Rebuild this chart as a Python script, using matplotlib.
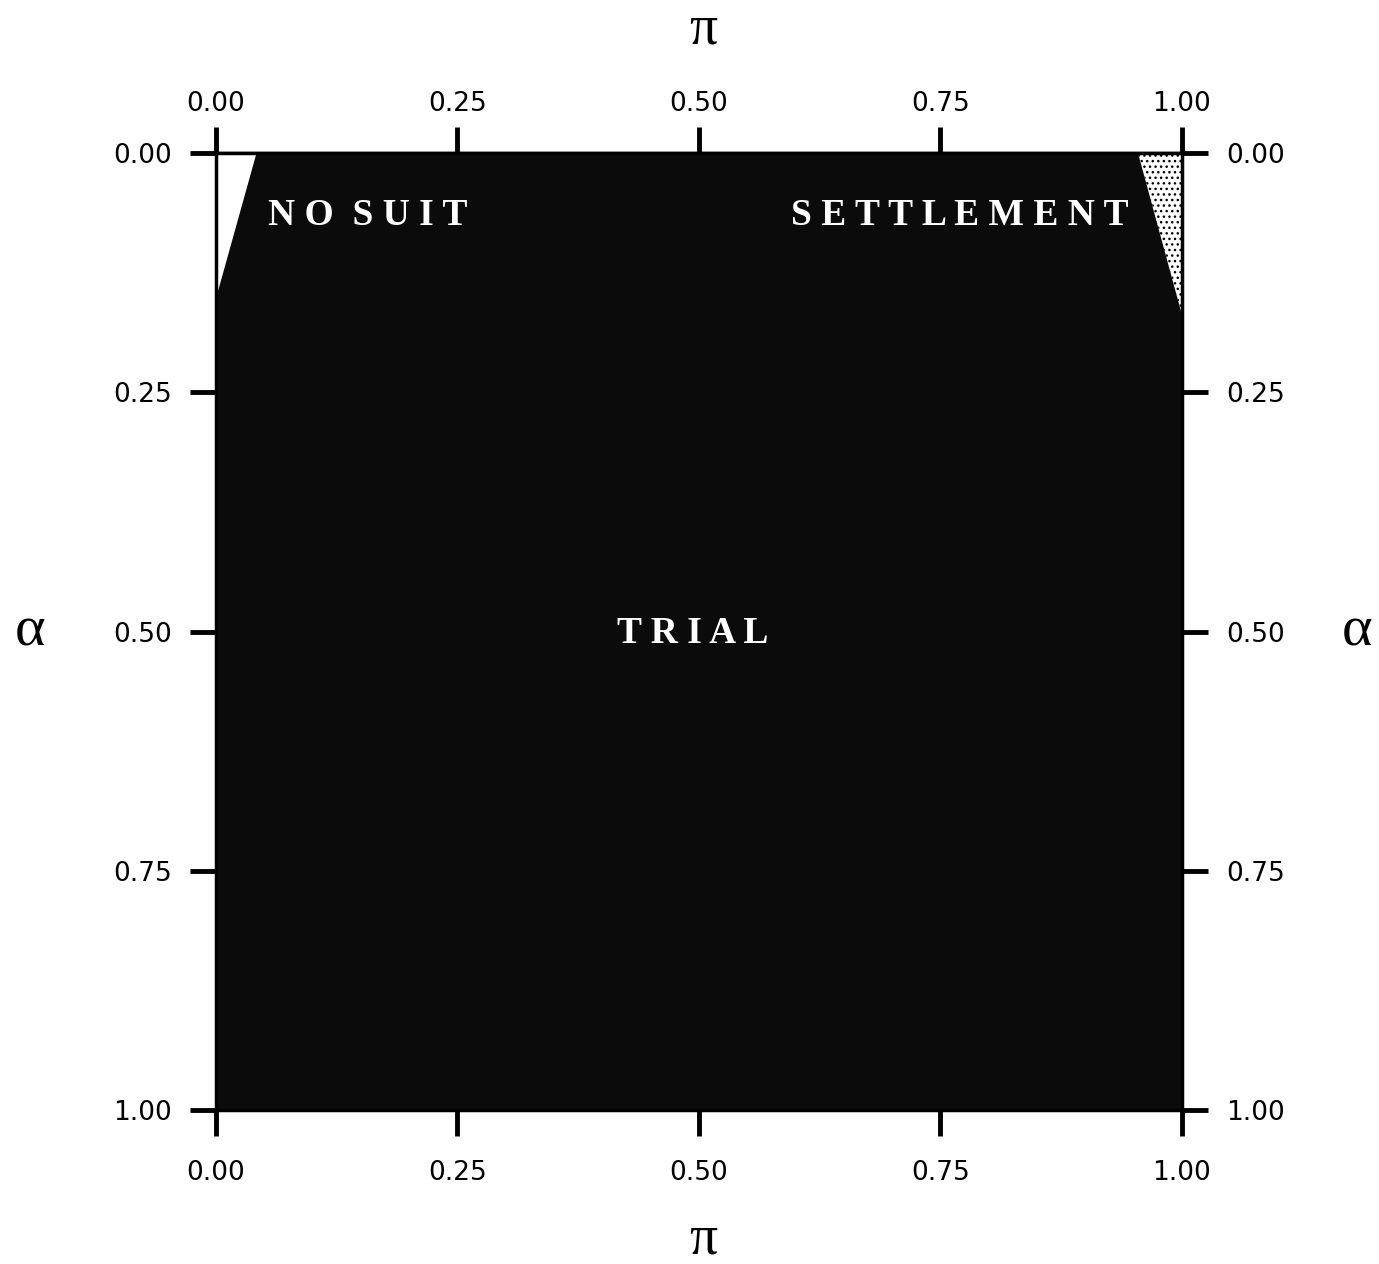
import matplotlib
matplotlib.use("Agg")
import matplotlib.pyplot as plt
from matplotlib.patches import Polygon

# Region boundaries in the (pi, alpha) plane
trial_pi = [0.0, 1.0, 1.0, 0.0]
trial_alpha = [0.0, 0.0, 1.0, 1.0]
nosuit_pi = [0.0, 0.042, 0.0]
nosuit_alpha = [0.0, 0.0, 0.152]
settle_pi = [0.954, 1.0, 1.0]
settle_alpha = [0.0, 0.0, 0.169]

ticks = [0.0, 0.25, 0.5, 0.75, 1.0]
tick_labels = ["0.00", "0.25", "0.50", "0.75", "1.00"]

region_labels = ["N O  S U I T", "S E T T L E M E N T", "T R I A L"]
region_pos = [(0.157, 0.065), (0.770, 0.065), (0.494, 0.502)]

fig = plt.figure(figsize=(13.79, 12.64), dpi=100)
ax = fig.add_axes([0.1566, 0.1218, 0.7005, 0.7571])

ax.add_patch(Polygon(list(zip(trial_pi, trial_alpha)), closed=True,
                     facecolor="#0b0b0b", edgecolor="none", zorder=1))
ax.add_patch(Polygon(list(zip(nosuit_pi, nosuit_alpha)), closed=True,
                     facecolor="white", edgecolor="none", zorder=2))
ax.add_patch(Polygon(list(zip(settle_pi, settle_alpha)), closed=True,
                     facecolor="white", edgecolor="black", hatch="...",
                     linewidth=0, zorder=2))

ax.set_xlim(0, 1)
ax.set_ylim(1, 0)

for s in ax.spines.values():
    s.set_linewidth(2.5)
    s.set_color("black")

ax.set_xticks(ticks)
ax.set_xticklabels(tick_labels)
ax.set_yticks(ticks)
ax.set_yticklabels(tick_labels)
ax.tick_params(axis="both", direction="out", length=19, width=3.5,
               labelsize=19, colors="black")
ax.tick_params(axis="x", top=False, labeltop=False, bottom=True,
               labelbottom=True, pad=17)
ax.tick_params(axis="y", left=True, labelleft=True, right=True, labelright=True,
               pad=13)

# top pi axis
top = ax.secondary_xaxis("top")
top.set_xticks(ticks)
top.set_xticklabels(tick_labels)
top.tick_params(direction="out", length=19, width=3.5, labelsize=19, pad=7)
top.spines["top"].set_linewidth(2.5)

for text, (px, py) in zip(region_labels, region_pos):
    ax.text(px, py, text, color="white", ha="center", va="center",
            fontfamily="Liberation Serif", fontweight="bold", fontsize=27,
            zorder=3)

fig.text(0.51, 0.977, "π", ha="center", va="center",
         fontfamily="Liberation Serif", fontsize=40)
fig.text(0.51, 0.019, "π", ha="center", va="center",
         fontfamily="Liberation Serif", fontsize=40)
fig.text(0.022, 0.50, "α", ha="center", va="center",
         fontfamily="Liberation Serif", fontsize=42)
fig.text(0.984, 0.50, "α", ha="center", va="center",
         fontfamily="Liberation Serif", fontsize=42)

fig.savefig("out.png", dpi=100, facecolor="white")
